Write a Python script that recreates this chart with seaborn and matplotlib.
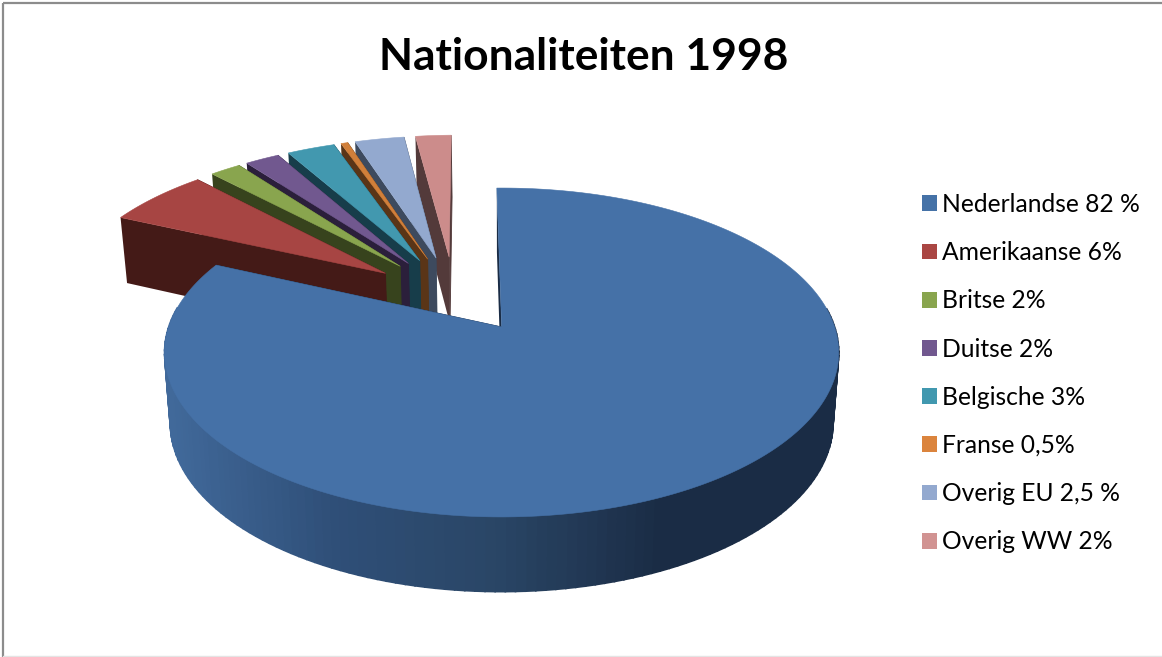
import numpy as np
import matplotlib
matplotlib.use('Agg')
import matplotlib.pyplot as plt
from matplotlib.patches import Patch
import seaborn as sns

labels = ['Nederlandse 82 %', 'Amerikaanse 6%', 'Britse 2%', 'Duitse 2%',
          'Belgische 3%', 'Franse 0,5%', 'Overig EU 2,5 %', 'Overig WW 2%']
# shares, close to what the labels say
values = [82, 6, 1.8, 2, 2.8, 0.4, 2.9, 2.1]
top_colors = ['#4571A7', '#A74543', '#89A54E', '#71588F',
              '#4298AF', '#D17F3A', '#93A9CF', '#CC8C8B']
legend_colors = ['#4572A7', '#AA4643', '#89A54E', '#71588F',
                 '#4198AF', '#DB843D', '#93A9CF', '#D19392']
wall_colors = ['#1A2C45', '#441A17', '#37431D', '#2B1F3B',
               '#173D4A', '#5A3517', '#3D4A5E', '#533A3A']
# colours of the big slice's curved side, left to right
rim_shades = ['#41699A', '#2F4F78', '#2A4666', '#1A2C45', '#1A2C45']

sns.set_theme(style='white')
plt.rcParams['font.family'] = ['Lato', 'DejaVu Sans']

# view of the pie, in pixels
cx, cy = 503, 327
rx, ry = 333, 160.5
persp = 0.155
start = -1.0
explode = 0.27
hub = (-0.151, 0.198)
big_offset = (-0.004, 0.0)


def project(u, v, low=False):
    s = 1 / (1 + persp * v)
    x = rx * u * s
    y = cy - ry * v * s
    if low:
        return cx + x * 0.983, y + 69.5 - 5.2 * v
    return cx + x, y


def ring(a0, a1, off):
    a = np.radians(np.linspace(a0, a1, max(int(abs(a1 - a0) * 2), 2)))
    return off[0] + np.sin(a), off[1] + np.cos(a)


def quad(ax, u0, v0, u1, v1, color, lw=0.6):
    xa, ya = project(u0, v0)
    xb, yb = project(u1, v1)
    xc, yc = project(u1, v1, low=True)
    xd, yd = project(u0, v0, low=True)
    ax.fill([xa, xb, xc, xd], [ya, yb, yc, yd], color=color, lw=lw)


fig, ax = plt.subplots(figsize=(11.62, 6.57), dpi=100)
fig.subplots_adjust(0, 0, 1, 1)
ax.set_xlim(0, 1162)
ax.set_ylim(657, 0)
ax.axis('off')

angles = start + np.concatenate([[0], np.cumsum(values)]) * 3.6
rim_cmap = sns.blend_palette(rim_shades, as_cmap=True)

# small slices go back to front, the big one last
for i in range(len(values) - 1, -1, -1):
    a0, a1 = angles[i], angles[i + 1]
    mid = np.radians((a0 + a1) / 2)
    if i == 0:
        off = big_offset
    else:
        off = (hub[0] + explode * np.sin(mid), hub[1] + explode * np.cos(mid))
    uu, vv = ring(a0, a1, off)

    quad(ax, off[0], off[1], uu[-1], vv[-1], wall_colors[i])
    quad(ax, off[0], off[1], uu[0], vv[0], wall_colors[i], lw=0)

    if i == 0:
        for j in range(0, len(uu) - 1, 3):
            k = min(j + 3, len(uu) - 1)
            # the back of the rim is hidden anyway
            if vv[j] > 0.1 and vv[k] > 0.1:
                continue
            xm, _ = project(uu[j], vv[j])
            quad(ax, uu[j], vv[j], uu[k], vv[k],
                 rim_cmap(np.clip((xm - 170) / 660, 0, 1)), lw=1.2)

    xs, ys = project(np.r_[off[0], uu], np.r_[off[1], vv])
    ax.fill(xs, ys, color=top_colors[i], lw=0.4)

# outer frame of the chart area
ax.plot([3, 3], [3, 657], color='#8C8C8C', lw=1.6, solid_capstyle='butt')
ax.plot([3, 1162], [3, 3], color='#8C8C8C', lw=1.6, solid_capstyle='butt')
ax.plot([3, 1162], [656, 656], color='#E4E4E4', lw=1)

ax.text(584, 57, 'Nationaliteiten 1998', ha='center', va='center',
        fontsize=31.9, fontweight='bold', color='black')

handles = [Patch(facecolor=c, edgecolor='none') for c in legend_colors]
ax.legend(handles, labels, loc='center left', bbox_to_anchor=(0.7932, 0.432),
          frameon=False, fontsize=17.7, labelspacing=1.025, handlelength=0.61,
          handleheight=0.61, handletextpad=0.22, borderpad=0, borderaxespad=0,
          labelcolor='black')

fig.savefig('out.png', dpi=100)
